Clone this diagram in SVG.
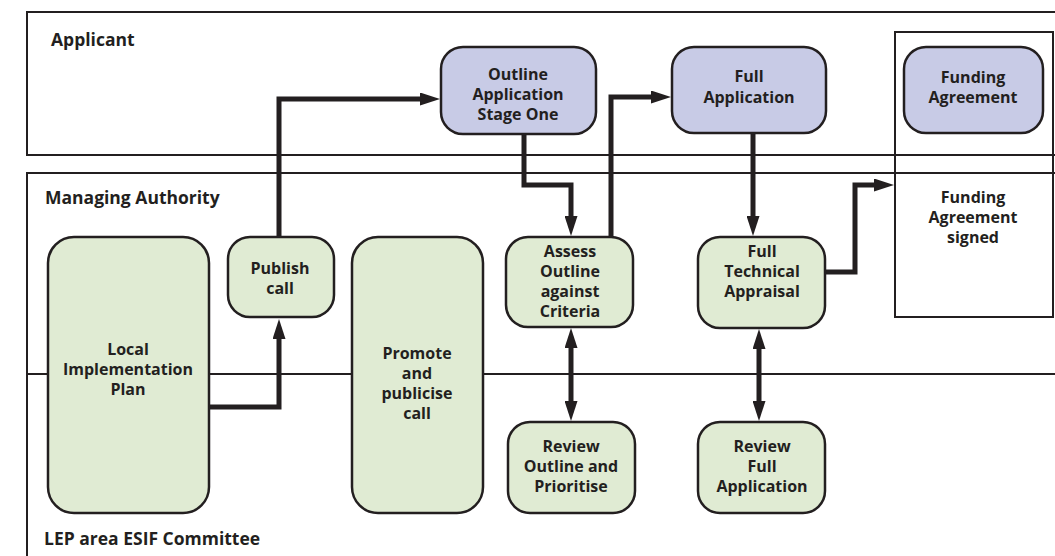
<svg xmlns="http://www.w3.org/2000/svg" width="1055" height="556" viewBox="0 0 1055 556">
  <style>
    .lane { fill: none; stroke: #231f20; stroke-width: 2; }
    .lane-label { font-family: "Open Sans", "Liberation Sans", sans-serif; font-weight: bold; font-size: 17.5px; fill: #231f20; }
    .node { stroke: #231f20; stroke-width: 2.5; }
    .applicant { fill: #c8cbe6; }
    .authority { fill: #e0ebd3; }
    .label { font-family: "Open Sans", "Liberation Sans", sans-serif; font-weight: bold; font-size: 16px; fill: #231f20; text-anchor: middle; }
    .flow { fill: none; stroke: #231f20; stroke-width: 5; }
  </style>
  <defs>
    <marker id="arrow" viewBox="0 0 20 13" markerWidth="20" markerHeight="13" markerUnits="userSpaceOnUse" refX="1" refY="6.5" orient="auto-start-reverse">
      <path d="M0,0 L20,6.5 L0,13 z" fill="#231f20"/>
    </marker>
  </defs>

  <rect width="1055" height="556" fill="#ffffff"/>

  <!-- swimlanes -->
  <g id="lanes">
    <rect class="lane" x="27" y="12" width="1100" height="143"/>
    <rect class="lane" x="27" y="173" width="1100" height="201"/>
    <rect class="lane" x="27" y="374" width="1100" height="300"/>
    <text class="lane-label" x="51" y="46">Applicant</text>
    <text class="lane-label" x="45" y="204">Managing Authority</text>
    <text class="lane-label" x="44" y="545">LEP area ESIF Committee</text>
  </g>

  <!-- funding column -->
  <g id="funding-box">
    <rect class="lane" x="895" y="32" width="158" height="285"/>
    <text class="label" x="973" y="203">Funding</text>
    <text class="label" x="973" y="223">Agreement</text>
    <text class="label" x="973" y="243">signed</text>
  </g>

  <!-- connectors -->
  <g id="connectors">
    <path class="flow" d="M209,407 H279 V338" marker-end="url(#arrow)"/>
    <path class="flow" d="M279,237 V99 H421" marker-end="url(#arrow)"/>
    <path class="flow" d="M524,134 V185 H571 V217" marker-end="url(#arrow)"/>
    <path class="flow" d="M611,237 V97 H652" marker-end="url(#arrow)"/>
    <path class="flow" d="M753,133 V217" marker-end="url(#arrow)"/>
    <path class="flow" d="M825,272 H855 V185 H875" marker-end="url(#arrow)"/>
    <path class="flow" d="M571,347 V402" marker-start="url(#arrow)" marker-end="url(#arrow)"/>
    <path class="flow" d="M759,348 V402" marker-start="url(#arrow)" marker-end="url(#arrow)"/>
  </g>

  <!-- applicant nodes -->
  <g id="outline-application">
    <rect class="node applicant" x="441" y="47" width="155" height="87" rx="22"/>
    <text class="label" x="518" y="80">Outline</text>
    <text class="label" x="518" y="100">Application</text>
    <text class="label" x="518" y="120">Stage One</text>
  </g>
  <g id="full-application">
    <rect class="node applicant" x="672" y="47" width="154" height="86" rx="22"/>
    <text class="label" x="749" y="82">Full</text>
    <text class="label" x="749" y="103">Application</text>
  </g>
  <g id="funding-agreement">
    <rect class="node applicant" x="904" y="47" width="139" height="86" rx="22"/>
    <text class="label" x="973" y="83">Funding</text>
    <text class="label" x="973" y="103">Agreement</text>
  </g>

  <!-- managing authority / committee nodes -->
  <g id="local-implementation-plan">
    <rect class="node authority" x="48" y="237" width="161" height="276" rx="26"/>
    <text class="label" x="128" y="355">Local</text>
    <text class="label" x="128" y="375">Implementation</text>
    <text class="label" x="128" y="395">Plan</text>
  </g>
  <g id="publish-call">
    <rect class="node authority" x="228" y="237" width="106" height="80" rx="22"/>
    <text class="label" x="280" y="274">Publish</text>
    <text class="label" x="280" y="294">call</text>
  </g>
  <g id="promote-call">
    <rect class="node authority" x="352" y="237" width="131" height="276" rx="26"/>
    <text class="label" x="417" y="359">Promote</text>
    <text class="label" x="417" y="379">and</text>
    <text class="label" x="417" y="399">publicise</text>
    <text class="label" x="417" y="419">call</text>
  </g>
  <g id="assess-outline">
    <rect class="node authority" x="506" y="237" width="127" height="90" rx="22"/>
    <text class="label" x="570" y="257">Assess</text>
    <text class="label" x="570" y="277">Outline</text>
    <text class="label" x="570" y="297">against</text>
    <text class="label" x="570" y="317">Criteria</text>
  </g>
  <g id="full-technical-appraisal">
    <rect class="node authority" x="698" y="237" width="127" height="91" rx="22"/>
    <text class="label" x="762" y="257">Full</text>
    <text class="label" x="762" y="277">Technical</text>
    <text class="label" x="762" y="297">Appraisal</text>
  </g>
  <g id="review-outline">
    <rect class="node authority" x="508" y="422" width="127" height="91" rx="22"/>
    <text class="label" x="571" y="452">Review</text>
    <text class="label" x="571" y="472">Outline and</text>
    <text class="label" x="571" y="492">Prioritise</text>
  </g>
  <g id="review-full-application">
    <rect class="node authority" x="698" y="422" width="127" height="91" rx="22"/>
    <text class="label" x="762" y="452">Review</text>
    <text class="label" x="762" y="472">Full</text>
    <text class="label" x="762" y="492">Application</text>
  </g>
</svg>
